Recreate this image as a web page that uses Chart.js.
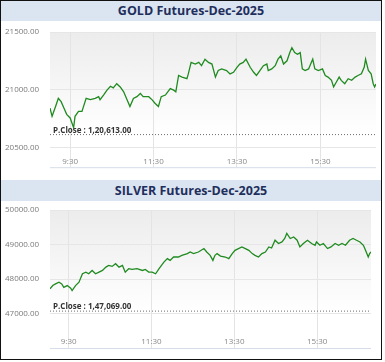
<!DOCTYPE html>
<html>
<head>
<meta charset="utf-8">
<script src="https://cdn.jsdelivr.net/npm/chart.js@4.4.1/dist/chart.umd.min.js"></script>
<style>
  html, body { margin: 0; padding: 0; background: #fff; }
  body { width: 385px; height: 362px; position: relative; overflow: hidden; font-family: 'Open Sans', sans-serif; }
  .bar { position: absolute; left: 1px; width: 380px; background: #dbe5f1; color: #1f2f5c;
         font-weight: 700; font-size: 12.5px; text-align: center; }
  canvas { position: absolute; left: 1px; }
  .frame { position: absolute; left: 0; top: 0; width: 380px; height: 358px; border: 1px solid #111; pointer-events: none; }
</style>
</head>
<body>
<div class="bar" style="top:1px;height:20px;line-height:20px;">GOLD Futures-Dec-2025</div>
<canvas id="goldChart" width="380" height="154" style="top:21px"></canvas>
<div class="bar" style="top:180px;height:21px;line-height:21px;">SILVER Futures-Dec-2025</div>
<canvas id="silverChart" width="380" height="158" style="top:201px"></canvas>
<div class="frame"></div>

<script>
/* ── data, minutes after 9:00 ── */
const goldTimes = [1, 4, 9, 13, 17, 21, 25, 30, 35, 37, 42, 47, 53, 59, 66, 71, 73, 78, 83, 88, 92, 97, 102, 107, 112, 116,
  121, 126, 131, 135, 143, 148, 152, 157, 161, 167, 174, 179, 182, 186, 191, 198, 200, 204, 210, 215, 219, 224, 229, 234,
  239, 243, 248, 255, 260, 265, 270, 274, 279, 283, 289, 294, 298, 303, 308, 313, 315, 320, 325, 329, 333, 337, 342, 346,
  349, 353, 357, 361, 364, 368, 373, 376, 379, 382, 387, 393, 397, 401, 406, 409, 413, 417, 420, 425, 430, 435, 440, 444,
  449, 453, 455, 459, 463, 466, 468, 470];
const goldPrices = [20842, 20771, 20856, 20926, 20898, 20842, 20788, 20757, 20672, 20771, 20814, 20814, 20926, 20915, 20926,
  20941, 20915, 20955, 20997, 21031, 21017, 21053, 21025, 20983, 20913, 20856, 20926, 20941, 20969, 20941, 20941, 20913,
  20884, 20856, 20941, 20955, 21011, 20997, 20983, 21124, 21110, 21096, 21138, 21237, 21223, 21237, 21209, 21265, 21237,
  21223, 21110, 21167, 21181, 21167, 21138, 21152, 21195, 21223, 21237, 21265, 21195, 21152, 21124, 21167, 21209, 21223,
  21167, 21181, 21209, 21265, 21294, 21223, 21251, 21322, 21364, 21322, 21307, 21322, 21181, 21167, 21181, 21223, 21265,
  21181, 21167, 21181, 21124, 21110, 21082, 21025, 21068, 21110, 21082, 21053, 21096, 21082, 21110, 21124, 21138, 21195,
  21265, 21167, 21138, 21053, 21025, 21050];

const silverTimes = [3, 7, 11, 16, 20, 23, 28, 33, 35, 40, 45, 50, 55, 59, 64, 69, 74, 79, 84, 88, 93, 98, 103, 108, 112,
  117, 122, 129, 137, 141, 146, 151, 156, 161, 168, 173, 177, 182, 189, 194, 202, 206, 211, 218, 226, 230, 235, 239, 242,
  245, 250, 257, 262, 267, 271, 276, 281, 286, 291, 296, 300, 305, 310, 315, 320, 324, 329, 334, 339, 343, 346, 351, 356,
  361, 365, 370, 376, 382, 387, 389, 394, 399, 405, 410, 416, 421, 426, 431, 437, 442, 447, 452, 457, 459, 462, 464, 466, 468];
const silverPrices = [47714, 47810, 47859, 47906, 47859, 47760, 47810, 47731, 47664, 47810, 47906, 48152, 48199, 48152,
  48248, 48152, 48199, 48248, 48344, 48394, 48365, 48444, 48344, 48394, 48199, 48298, 48277, 48298, 48248, 48277, 48199,
  48199, 48152, 48298, 48491, 48590, 48540, 48637, 48637, 48686, 48736, 48782, 48736, 48782, 48882, 48782, 48686, 48540,
  48686, 48736, 48666, 48637, 48590, 48736, 48832, 48882, 48929, 48882, 48832, 48736, 48686, 48637, 48736, 48782, 48929,
  48899, 49124, 49028, 49074, 49174, 49320, 49174, 49220, 49124, 48929, 49028, 49124, 49028, 48978, 49074, 48978, 49028,
  48882, 48929, 49028, 48978, 49028, 48978, 49124, 49174, 49124, 49074, 48978, 48882, 48736, 48637, 48736, 48782];

const xTickMinutes = [30, 150, 270, 390];
const xTickLabels  = ['9:30', '11:30', '13:30', '15:30'];
const goldTicks    = [20500, 21000, 21500];
const silverTicks  = [47000, 48000, 49000, 50000];
const goldPClose   = 20613;
const silverPClose = 47069;
const goldPCloseText   = 'P.Close : 1,20,613.00';
const silverPCloseText = 'P.Close : 1,47,069.00';

Chart.defaults.font = { family: "'Open Sans'", size: 8 };
Chart.defaults.color = '#7a7a7a';

/* plot background + bottom line + P.Close label */
const plotDeco = {
  id: 'plotDeco',
  beforeDraw(chart) {
    const { ctx, chartArea: a } = chart;
    const g = ctx.createLinearGradient(0, a.top, 0, a.bottom);
    g.addColorStop(0, '#ececec');
    g.addColorStop(0.75, '#ffffff');
    ctx.save();
    ctx.fillStyle = g;
    ctx.fillRect(a.left, a.top, a.right - a.left, a.bottom - a.top);
    ctx.strokeStyle = '#d6dde8';
    ctx.lineWidth = 1;
    ctx.beginPath();
    ctx.moveTo(a.left, a.bottom + 0.5);
    ctx.lineTo(a.right, a.bottom + 0.5);
    ctx.stroke();
    ctx.restore();
  },
  afterDatasetsDraw(chart, args, opts) {
    const { ctx } = chart;
    const y = chart.scales.y.getPixelForValue(opts.value);
    ctx.save();
    ctx.font = "bold 8px 'Open Sans'";
    ctx.fillStyle = '#333';
    ctx.textBaseline = 'middle';
    ctx.fillText(opts.text, chart.chartArea.left + 3, y - 4);
    ctx.restore();
  }
};

function makeChart(id, times, prices, ticks, pClose, pText, yMin, yMax, xMin, xMax, labelAt, pad) {
  return new Chart(document.getElementById(id), {
    type: 'line',
    data: {
      datasets: [
        {
          data: times.map((t, i) => ({ x: t, y: prices[i] })),
          borderColor: '#1f8a1f',
          borderWidth: 1.3,
          pointRadius: 0,
          tension: 0,
        },
        {
          data: [{ x: xMin, y: pClose }, { x: xMax, y: pClose }],
          borderColor: '#6d6d6d',
          borderWidth: 1,
          borderDash: [1, 2],
          pointRadius: 0,
        }
      ]
    },
    options: {
      responsive: false,
      animation: false,
      devicePixelRatio: 1,
      layout: { padding: pad },
      plugins: {
        legend: { display: false },
        tooltip: { enabled: false },
        plotDeco: { value: pClose, text: pText }
      },
      scales: {
        x: {
          type: 'linear',
          min: xMin, max: xMax,
          position: { y: labelAt },
          afterBuildTicks: s => { s.ticks = xTickMinutes.map(v => ({ value: v })); },
          ticks: {
            padding: 0,
            maxRotation: 0,
            autoSkip: false,
            color: '#888',
            callback: v => xTickLabels[xTickMinutes.indexOf(v)]
          },
          grid: { color: '#e4e4e4', drawTicks: false },
          border: { display: false }
        },
        y: {
          min: yMin, max: yMax,
          afterBuildTicks: s => { s.ticks = ticks.map(v => ({ value: v })); },
          afterFit: s => { s.width = 45; },
          ticks: {
            crossAlign: 'far',
            color: '#7a7a7a',
            callback: v => v.toFixed(2)
          },
          grid: { color: '#e6e6e6', drawTicks: false },
          border: { display: false }
        }
      }
    },
    plugins: [plotDeco]
  });
}

makeChart('goldChart', goldTimes, goldPrices, goldTicks, goldPClose, goldPCloseText,
  20331, 21500, 1, 470, 20423, { left: 4, top: 11, right: 5, bottom: 5 });

makeChart('silverChart', silverTimes, silverPrices, silverTicks, silverPClose, silverPCloseText,
  46000, 50000, 3, 468, 46312, { left: 4, top: 9, right: 10, bottom: 11 });
</script>
</body>
</html>
